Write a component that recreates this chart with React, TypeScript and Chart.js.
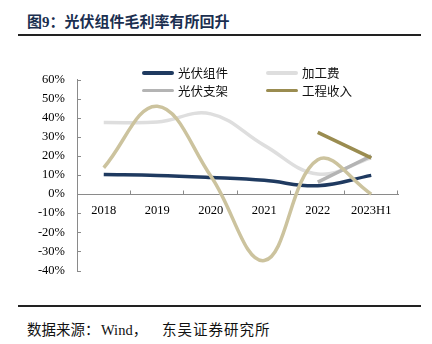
import React, { useEffect, useRef } from "react";
import { Chart, registerables } from "chart.js";

Chart.register(...registerables);

const categories = ["2018", "2019", "2020", "2021", "2022", "2023H1"];
const moduleMargin = [10.2, 9.8, 8.7, 7.2, 4.4, 9.8];
const processingFee = [37.5, 37.7, 42.0, 25.5, 10.5, 19.0];
const bracketMargin = [null, null, null, null, 6.3, 20.0];
const engineeringRevenue = [null, null, null, null, 32.3, 19.0];
const otherSeries = [13.8, 46.0, 9.5, -34.8, 18.0, 0.0];
const yMin = -40;
const yMax = 60;
const yStep = 10;

const legendItems = [
  { label: "光伏组件", color: "#1f3a60", row: 0, col: 0 },
  { label: "加工费", color: "#dedede", row: 0, col: 1 },
  { label: "光伏支架", color: "#b4b4b4", row: 1, col: 0 },
  { label: "工程收入", color: "#9a8c50", row: 1, col: 1 },
];

const sourceParts = [
  { text: "数据来源：", left: 27 },
  { text: "Wind，", left: 101 },
  { text: "东吴证券研究所", left: 162 },
];

const AXIS_COLOR = "#8a8a8a";

const innerTicksPlugin = {
  id: "innerTicks",
  afterDraw(chart: any) {
    const { ctx, scales } = chart;
    const y = scales.y;
    ctx.save();
    ctx.strokeStyle = AXIS_COLOR;
    ctx.lineWidth = 1;
    const left = chart.chartArea.left;
    for (let v = yMin; v <= yMax; v += yStep) {
      const py = Math.round(y.getPixelForValue(v)) + 0.5;
      ctx.beginPath();
      ctx.moveTo(left, py);
      ctx.lineTo(left + 4, py);
      ctx.stroke();
    }
    const y0 = Math.round(y.getPixelForValue(0)) + 0.5;
    const n = categories.length;
    const w = (chart.chartArea.right - chart.chartArea.left) / n;
    for (let i = 1; i <= n; i++) {
      const px = Math.round(chart.chartArea.left + w * i) - 0.5;
      ctx.beginPath();
      ctx.moveTo(px, y0);
      ctx.lineTo(px, y0 - 4);
      ctx.stroke();
    }
    ctx.restore();
  },
};

export default function App() {
  const canvasRef = useRef<HTMLCanvasElement | null>(null);

  useEffect(() => {
    if (!canvasRef.current) return;
    const chart = new Chart(canvasRef.current, {
      type: "line",
      data: {
        labels: categories,
        datasets: [
          {
            label: "其他",
            data: otherSeries,
            borderColor: "#ccc39e",
            borderWidth: 3.5,
            tension: 0.4,
            pointRadius: 0,
            fill: false,
          },
          {
            label: "光伏组件",
            data: moduleMargin,
            borderColor: "#1f3a60",
            borderWidth: 3.5,
            tension: 0.4,
            pointRadius: 0,
            fill: false,
          },
          {
            label: "工程收入",
            data: engineeringRevenue as any,
            borderColor: "#9a8c50",
            borderWidth: 3.5,
            tension: 0.4,
            pointRadius: 0,
            fill: false,
          },
          {
            label: "光伏支架",
            data: bracketMargin as any,
            borderColor: "#b4b4b4",
            borderWidth: 3.5,
            tension: 0.4,
            pointRadius: 0,
            fill: false,
          },
          {
            label: "加工费",
            data: processingFee,
            borderColor: "#dedede",
            borderWidth: 3.5,
            tension: 0.4,
            pointRadius: 0,
            fill: false,
          },
        ],
      },
      options: {
        animation: false,
        responsive: false,
        maintainAspectRatio: false,
        layout: { padding: { left: 0, right: 34, top: 18, bottom: 12 } },
        plugins: {
          legend: { display: false },
          tooltip: { enabled: false },
        },
        scales: {
          x: {
            type: "category",
            position: { y: 0 } as any,
            offset: true,
            grid: { display: false, drawTicks: false, offset: true },
            border: { display: true, color: AXIS_COLOR, width: 1 },
            ticks: {
              color: "#000",
              padding: 9,
              maxRotation: 0,
              font: { family: "'Liberation Serif', 'Times New Roman', serif", size: 12.5 },
            },
          },
          y: {
            min: yMin,
            max: yMax,
            grid: { display: false, drawTicks: false },
            border: { display: true, color: AXIS_COLOR, width: 1 },
            afterFit: (scale: any) => {
              scale.width = 77;
            },
            ticks: {
              stepSize: yStep,
              color: "#000",
              padding: 12,
              font: { family: "'Liberation Serif', 'Times New Roman', serif", size: 12.5 },
              callback: (v: any) => `${v}%`,
            },
          },
        },
      },
      plugins: [innerTicksPlugin],
    });
    return () => chart.destroy();
  }, []);

  return (
    <div
      style={{
        position: "absolute",
        left: 0,
        top: 0,
        width: 432,
        height: 344,
        background: "#fff",
        overflow: "hidden",
      }}
    >
      <div
        style={{
          position: "absolute",
          left: 27,
          top: 12,
          lineHeight: "20px",
          fontSize: 15,
          fontWeight: 700,
          color: "#1b2f50",
          fontFamily: "'Liberation Serif', 'Noto Sans CJK SC', serif",
          whiteSpace: "nowrap",
        }}
      >
        图9：光伏组件毛利率有所回升
      </div>
      <div
        style={{
          position: "absolute",
          left: 18,
          top: 34,
          width: 403,
          height: 1.5,
          background: "#222",
        }}
      />
      <canvas
        ref={canvasRef}
        width={432}
        height={230}
        style={{ position: "absolute", left: 0, top: 60, width: 432, height: 230 }}
      />
      {legendItems.map((it) => {
        const lineLeft = it.col === 0 ? 142 : 266;
        const cy = it.row === 0 ? 73 : 90.5;
        return (
          <React.Fragment key={it.label}>
            <div
              style={{
                position: "absolute",
                left: lineLeft,
                top: cy - 1.75,
                width: 32,
                height: 3.5,
                borderRadius: 2,
                background: it.color,
              }}
            />
            <div
              style={{
                position: "absolute",
                left: lineLeft + 36,
                top: cy - 9,
                lineHeight: "18px",
                fontSize: 12.5,
                color: "#111",
                fontFamily: "'Noto Sans CJK SC', sans-serif",
                whiteSpace: "nowrap",
              }}
            >
              {it.label}
            </div>
          </React.Fragment>
        );
      })}
      <div
        style={{
          position: "absolute",
          left: 18,
          top: 305,
          width: 403,
          height: 1.5,
          background: "#222",
        }}
      />
      {sourceParts.map((p) => (
        <div
          key={p.text}
          style={{
            position: "absolute",
            left: p.left,
            top: 321,
            lineHeight: "18px",
            fontSize: 14.5,
            letterSpacing: p.left > 150 ? 1 : 0,
            color: "#111",
            fontFamily: "'Liberation Serif', 'Noto Sans CJK SC', serif",
            whiteSpace: "nowrap",
          }}
        >
          {p.text}
        </div>
      ))}
    </div>
  );
}
